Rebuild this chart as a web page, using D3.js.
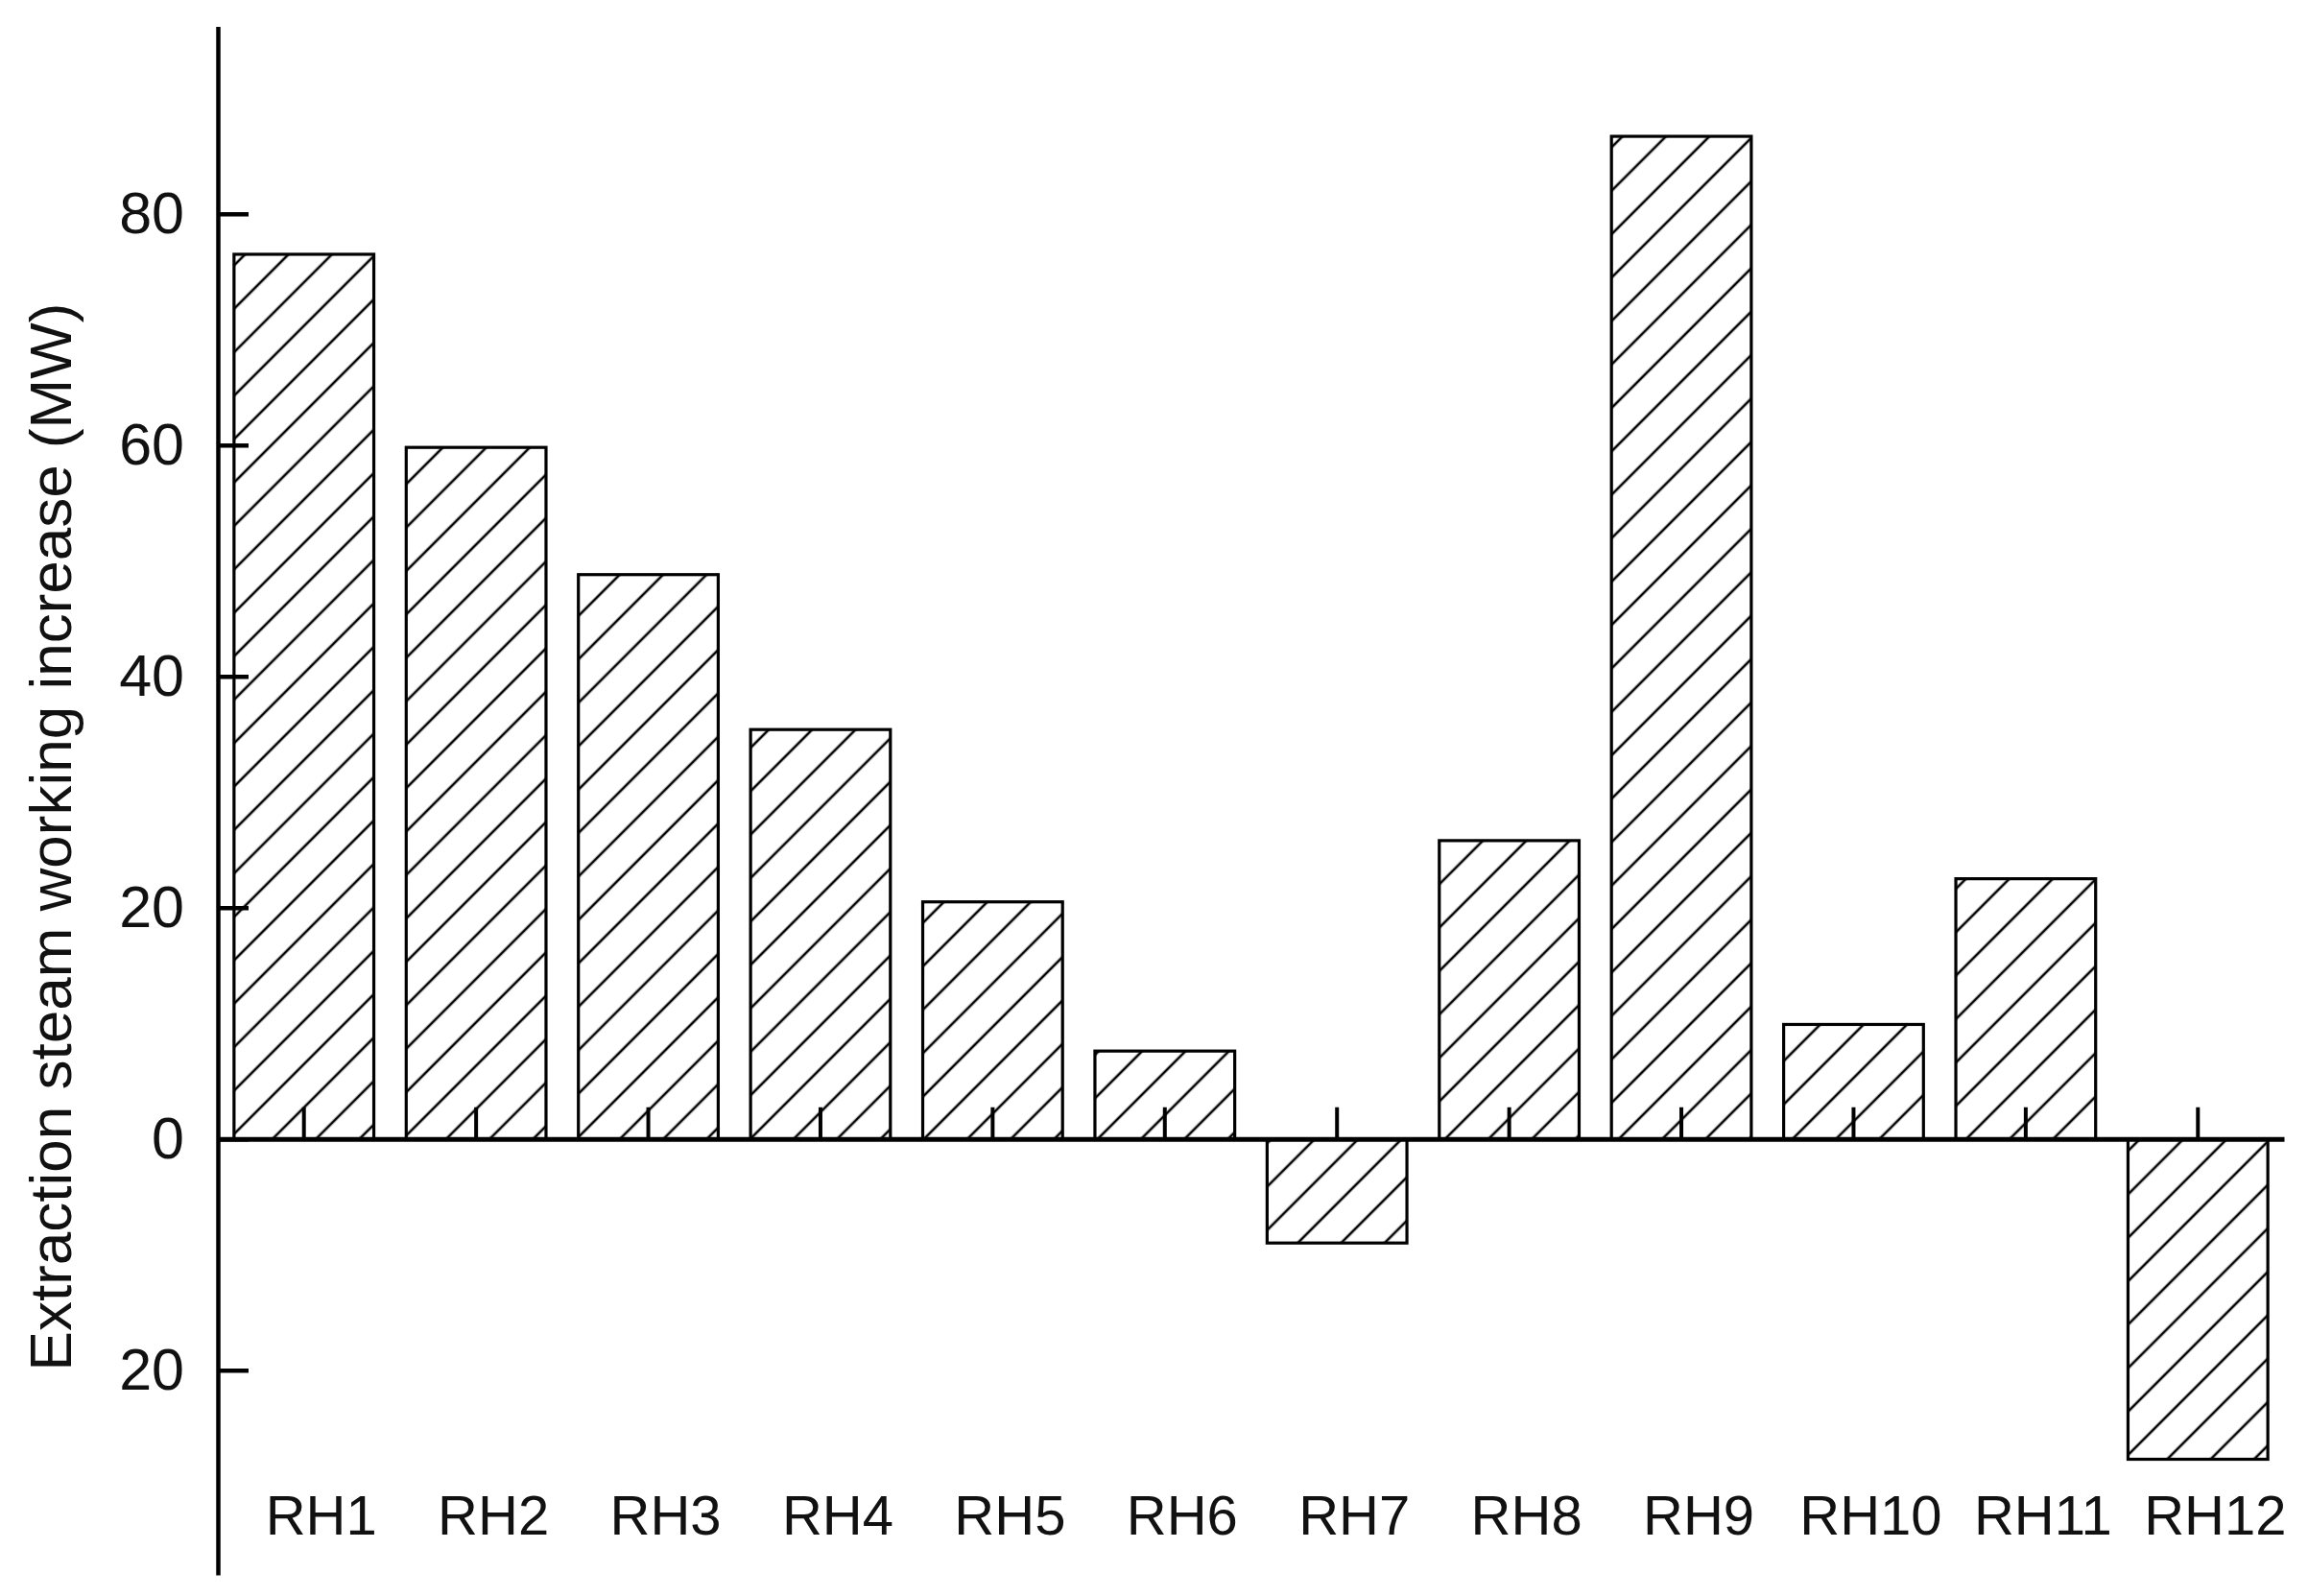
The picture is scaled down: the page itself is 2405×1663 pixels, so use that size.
<!DOCTYPE html>
<html>
<head>
<meta charset="utf-8">
<script src="https://cdn.jsdelivr.net/npm/d3@7"></script>
<style>
  html, body { margin: 0; padding: 0; background: #fff; }
  svg { display: block; }
</style>
</head>
<body>
<script>
const categories = ["RH1","RH2","RH3","RH4","RH5","RH6","RH7","RH8","RH9","RH10","RH11","RH12"];
const values = [76.5, 59.8, 48.8, 35.4, 20.5, 7.6, -9.0, 25.8, 86.7, 9.9, 22.5, -27.7];
const yTickValues = [-20, 0, 20, 40, 60, 80];
const yLabel = "Extraction steam working increase (MW)";

const W = 2405, H = 1663;
const svg = d3.select("body").append("svg").attr("width", W).attr("height", H);

const defs = svg.append("defs");
const sp = 32;
const pat = defs.append("pattern")
  .attr("id", "hatch")
  .attr("patternUnits", "userSpaceOnUse")
  .attr("width", sp).attr("height", sp)
  .attr("patternTransform", "rotate(45)");
pat.append("rect").attr("width", sp).attr("height", sp).attr("fill", "#fff");
pat.append("line").attr("x1", sp / 2).attr("y1", 0).attr("x2", sp / 2).attr("y2", sp)
  .attr("stroke", "#000").attr("stroke-width", 2.6);

const x = d3.scaleBand().domain(categories).range([227, 2380]).paddingInner(0.188).paddingOuter(0.094);
const y = d3.scaleLinear().domain([-37.7, 96.2]).range([1641, 27.6]);

// bars
svg.append("g").selectAll("rect").data(categories).join("rect")
  .attr("x", d => x(d))
  .attr("width", x.bandwidth())
  .attr("y", (d, i) => y(Math.max(0, values[i])))
  .attr("height", (d, i) => Math.abs(y(values[i]) - y(0)))
  .attr("fill", "url(#hatch)")
  .attr("stroke", "#000")
  .attr("stroke-width", 3.2);

const font = "'Liberation Sans', Arial, sans-serif";

// y axis
const yAxis = d3.axisLeft(y).tickValues(yTickValues)
  .tickFormat(d => String(Math.abs(d)))
  .tickSizeInner(-32).tickSizeOuter(0).tickPadding(35);
const gy = svg.append("g").attr("transform", "translate(227,0)").call(yAxis);
gy.select(".domain").attr("stroke", "#000").attr("stroke-width", 4.5);
gy.selectAll(".tick line").attr("stroke", "#000").attr("stroke-width", 4.5);
gy.selectAll(".tick text").attr("font-family", font).attr("font-size", 61).attr("fill", "#111");

// x axis at zero
const xAxis = d3.axisBottom(x).tickSizeInner(-33).tickSizeOuter(0).tickPadding(371);
const gx = svg.append("g").attr("transform", `translate(0,${y(0)})`).call(xAxis);
gx.select(".domain").attr("stroke", "#000").attr("stroke-width", 5);
gx.selectAll(".tick line").attr("stroke", "#000").attr("stroke-width", 4);
gx.selectAll(".tick text").attr("font-family", font).attr("font-size", 58).attr("fill", "#111").attr("dx", 18);

// y label
svg.append("text")
  .attr("transform", "translate(74,872) rotate(-90)")
  .attr("text-anchor", "middle")
  .attr("font-family", font).attr("font-size", 62).attr("fill", "#111")
  .text(yLabel);
</script>
</body>
</html>
